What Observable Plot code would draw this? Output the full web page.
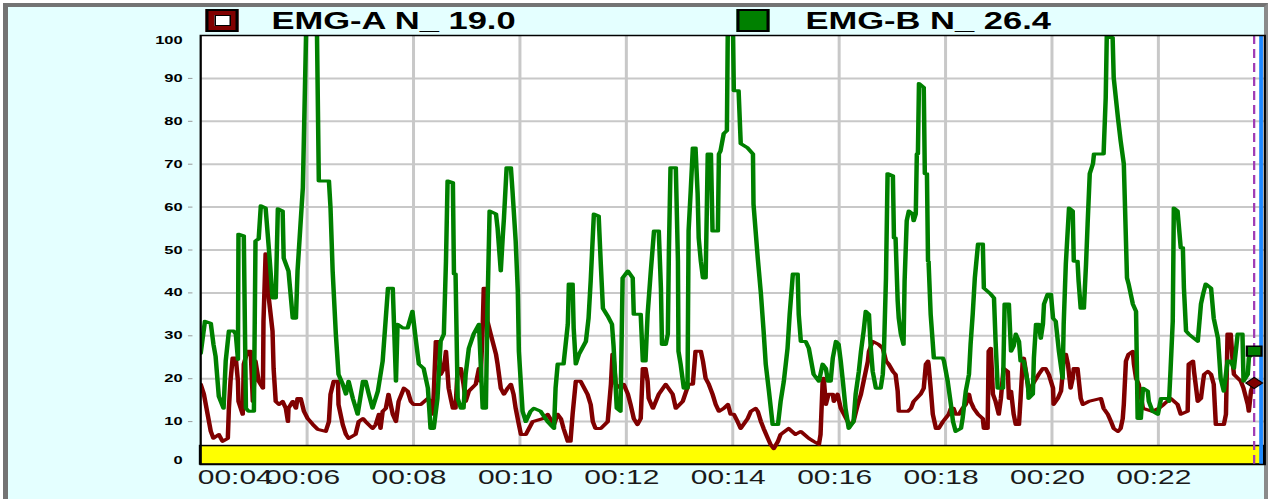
<!DOCTYPE html>
<html>
<head>
<meta charset="utf-8">
<script src="https://cdn.jsdelivr.net/npm/d3@7"></script>
<script src="https://cdn.jsdelivr.net/npm/@observablehq/plot@0.6"></script>
<style>
  html, body { margin: 0; padding: 0; background: #ffffff; }
  body { width: 1271px; height: 499px; overflow: hidden; position: relative; }
  #bg { position: absolute; left: 3px; top: 3px; width: 1265px; height: 496px; box-sizing: border-box; background: #e4ffff;
        border-top: 4px solid #737373; border-left: 5px solid #737373; border-right: 4px solid #8a8a8a; }
  #wrap { position: absolute; left: 0; top: 0; width: 847.33px; transform: scaleX(1.5); transform-origin: 0 0; }
  #legend { position: relative; height: 34px; font-family: "Liberation Sans", Arial, sans-serif; font-weight: bold; font-size: 23px; }
  .sw { position: absolute; top: 9px; width: 22px; height: 23px; box-sizing: border-box; border: 2px solid #000; }
  .sw .inner { position: absolute; left: 3.5px; top: 4px; width: 11px; height: 11px; box-sizing: border-box; background: #fff; border: 1.5px solid #000; }
  .lt { position: absolute; top: 10px; line-height: 23px; color: #000; white-space: pre; }
  #chart svg { display: block; }
</style>
</head>
<body>
<div id="bg"></div>
<div id="wrap">
  <div id="legend"></div>
  <div id="chart"></div>
</div>
<script>
// ---- data (time in seconds, value in %) ----
const xDomain = [4, 24];
const xTicks = [4, 6, 8, 10, 12, 14, 16, 18, 20, 22];
const xTickLabels = ["00:04", "00:06", "00:08", "00:10", "00:12", "00:14", "00:16", "00:18", "00:20", "00:22"];
const xGrid = [6, 8, 10, 12, 14, 16, 18, 20, 22];
const yDomain = [0, 100];
const yTicks = [0, 10, 20, 30, 40, 50, 60, 70, 80, 90, 100];
const yGrid = [10, 20, 30, 40, 50, 60, 70, 80, 90];
const seriesNames = ["EMG-A N_", "EMG-B N_"];
const seriesColors = ["#800000", "#008000"];
const cursorValues = [19.0, 26.4];
const cursorTime = [23.8];
const endTime = [23.93];
const bandTop = 4.3;

const emgA = [[4.00,18.7],[4.06,16.4],[4.13,11.7],[4.19,7.7],[4.24,6.1],[4.34,7.0],[4.41,5.4],[4.51,6.1],[4.53,13.1],[4.56,19.4],[4.60,24.8],[4.66,24.8],[4.70,19.4],[4.71,14.7],[4.79,11.7],[4.81,23.4],[4.88,26.4],[4.94,26.4],[4.98,14.7],[5.03,24.1],[5.09,19.4],[5.17,17.8],[5.18,33.4],[5.22,49.1],[5.26,48.1],[5.28,38.8],[5.35,31.1],[5.37,22.4],[5.41,14.7],[5.47,14.0],[5.54,14.7],[5.60,13.1],[5.64,10.0],[5.65,13.1],[5.73,14.7],[5.79,13.1],[5.82,15.4],[5.88,15.4],[5.94,12.4],[6.01,10.7],[6.11,9.3],[6.20,8.2],[6.35,7.7],[6.41,10.0],[6.44,16.4],[6.50,19.4],[6.58,19.4],[6.59,14.0],[6.67,9.3],[6.73,7.0],[6.78,6.1],[6.91,7.0],[6.97,10.0],[7.05,10.7],[7.10,10.0],[7.23,8.4],[7.29,9.3],[7.35,11.7],[7.38,8.4],[7.42,12.4],[7.48,13.1],[7.53,16.4],[7.61,11.7],[7.67,10.0],[7.72,14.7],[7.82,17.8],[7.89,17.1],[7.95,14.7],[8.00,14.0],[8.14,14.0],[8.27,15.4],[8.32,14.7],[8.36,11.7],[8.38,16.4],[8.42,28.7],[8.47,28.7],[8.51,21.0],[8.57,22.4],[8.61,26.4],[8.66,17.8],[8.70,15.4],[8.74,13.1],[8.79,13.1],[8.83,22.4],[8.89,22.4],[8.94,18.7],[8.98,14.7],[9.04,17.1],[9.17,18.7],[9.23,22.4],[9.26,19.4],[9.30,31.8],[9.32,41.1],[9.38,41.1],[9.39,33.4],[9.45,30.4],[9.55,25.7],[9.58,23.4],[9.64,17.8],[9.70,16.4],[9.77,17.8],[9.83,18.7],[9.88,16.4],[9.92,13.1],[9.98,9.3],[10.02,7.0],[10.11,7.0],[10.17,8.4],[10.24,10.0],[10.43,10.7],[10.52,11.7],[10.64,9.3],[10.71,11.7],[10.77,10.7],[10.82,8.4],[10.90,5.4],[10.95,5.4],[10.99,11.7],[11.05,19.4],[11.14,19.4],[11.27,16.4],[11.33,14.0],[11.37,10.0],[11.42,8.4],[11.52,8.4],[11.65,10.0],[11.71,18.7],[11.74,25.7],[11.76,24.8],[11.80,18.7],[11.89,17.8],[11.95,18.7],[12.03,16.4],[12.08,14.0],[12.14,10.7],[12.21,9.3],[12.27,10.7],[12.31,22.4],[12.36,22.4],[12.40,19.4],[12.42,15.4],[12.50,13.1],[12.61,16.4],[12.74,18.7],[12.87,16.4],[12.93,13.1],[13.06,14.7],[13.17,18.7],[13.25,18.7],[13.30,26.4],[13.40,26.4],[13.44,24.1],[13.49,20.1],[13.55,18.7],[13.62,16.4],[13.68,14.0],[13.74,12.4],[13.83,13.1],[13.91,14.0],[13.96,11.7],[14.02,11.7],[14.09,10.0],[14.15,8.4],[14.28,10.7],[14.34,12.4],[14.43,13.1],[14.47,12.4],[14.53,10.0],[14.58,8.4],[14.66,6.1],[14.71,4.7],[14.77,3.7],[14.85,5.4],[14.90,7.0],[15.05,8.4],[15.18,7.0],[15.28,7.7],[15.43,6.1],[15.52,5.4],[15.62,4.7],[15.65,7.0],[15.69,19.4],[15.71,20.1],[15.75,14.0],[15.80,16.4],[15.88,16.4],[15.90,14.7],[15.97,16.4],[16.03,13.1],[16.09,11.7],[16.16,10.0],[16.22,9.3],[16.27,10.0],[16.35,14.0],[16.41,16.4],[16.46,19.4],[16.54,24.1],[16.56,26.4],[16.63,28.7],[16.74,28.0],[16.82,27.1],[16.88,24.1],[16.93,23.4],[17.01,21.7],[17.06,21.0],[17.10,17.1],[17.12,12.4],[17.29,12.4],[17.35,13.1],[17.40,14.7],[17.53,16.4],[17.59,17.8],[17.63,23.4],[17.67,24.1],[17.68,23.4],[17.72,17.8],[17.76,11.7],[17.82,8.4],[17.87,8.4],[17.95,10.0],[18.06,11.7],[18.10,13.1],[18.15,13.1],[18.19,11.7],[18.25,11.7],[18.32,13.1],[18.38,14.0],[18.44,16.4],[18.47,14.7],[18.53,13.1],[18.61,11.7],[18.70,10.7],[18.72,8.4],[18.79,8.4],[18.81,26.4],[18.85,27.1],[18.89,16.4],[18.94,14.7],[19.00,11.7],[19.04,15.4],[19.09,22.4],[19.17,21.7],[19.19,15.4],[19.23,17.1],[19.28,11.7],[19.32,9.3],[19.38,9.3],[19.41,15.4],[19.45,24.1],[19.47,24.8],[19.51,21.7],[19.56,17.1],[19.64,18.7],[19.75,21.0],[19.83,22.4],[19.88,22.4],[19.94,21.0],[20.02,17.8],[20.03,14.0],[20.11,15.4],[20.17,17.1],[20.20,21.0],[20.22,25.7],[20.26,25.7],[20.30,23.4],[20.35,17.8],[20.39,20.1],[20.41,22.4],[20.48,22.4],[20.50,20.1],[20.54,15.4],[20.58,14.0],[20.69,14.7],[20.92,15.4],[20.97,13.1],[21.05,11.7],[21.11,10.0],[21.16,8.4],[21.24,7.7],[21.29,8.4],[21.33,10.7],[21.35,14.0],[21.39,24.1],[21.44,25.7],[21.52,26.4],[21.54,23.4],[21.58,20.1],[21.63,18.7],[21.71,13.1],[21.89,12.4],[22.01,13.1],[22.10,14.0],[22.23,15.4],[22.36,14.0],[22.42,11.7],[22.55,12.4],[22.57,23.4],[22.65,24.1],[22.67,21.7],[22.74,14.7],[22.80,15.4],[22.84,19.4],[22.86,21.0],[22.93,21.7],[22.99,21.0],[23.04,18.7],[23.08,9.3],[23.23,9.3],[23.27,11.7],[23.30,30.4],[23.36,30.4],[23.40,23.4],[23.42,21.0],[23.55,19.4],[23.60,17.8],[23.68,14.0],[23.70,12.4],[23.74,17.1],[23.79,19.0]];

const emgB = [[4.00,25.9],[4.08,33.4],[4.19,32.9],[4.24,28.0],[4.28,25.2],[4.34,15.9],[4.43,13.1],[4.47,24.1],[4.53,31.1],[4.62,31.1],[4.66,30.4],[4.70,24.5],[4.71,53.7],[4.81,53.3],[4.85,13.1],[4.90,12.4],[5.00,12.4],[5.03,52.1],[5.09,52.6],[5.13,60.3],[5.22,59.8],[5.28,50.5],[5.35,38.8],[5.41,38.8],[5.45,59.6],[5.54,59.1],[5.56,48.1],[5.65,45.1],[5.73,34.1],[5.79,34.1],[5.82,45.1],[5.88,56.8],[5.92,64.5],[5.99,106],[6.18,106],[6.22,66.1],[6.41,66.1],[6.44,59.8],[6.48,45.1],[6.54,30.4],[6.59,21.0],[6.67,18.7],[6.73,16.4],[6.78,19.4],[6.86,15.4],[6.95,11.7],[7.05,19.4],[7.10,19.4],[7.16,16.4],[7.23,13.1],[7.33,17.1],[7.42,24.1],[7.52,41.1],[7.61,41.1],[7.67,19.4],[7.70,32.7],[7.80,31.8],[7.89,31.8],[7.98,35.7],[8.04,29.4],[8.10,23.4],[8.19,22.4],[8.27,17.8],[8.32,8.4],[8.38,8.4],[8.45,15.4],[8.51,28.7],[8.57,30.4],[8.61,47.4],[8.64,66.1],[8.74,65.7],[8.76,44.4],[8.79,44.4],[8.83,15.4],[8.89,13.1],[8.94,13.1],[8.98,21.0],[9.04,27.1],[9.13,30.4],[9.23,32.7],[9.30,13.1],[9.36,13.1],[9.39,36.4],[9.43,59.1],[9.55,58.4],[9.58,55.1],[9.64,45.1],[9.68,53.7],[9.70,57.5],[9.75,69.2],[9.83,69.2],[9.86,63.8],[9.92,52.1],[9.96,40.4],[9.98,26.4],[10.05,12.4],[10.11,10.0],[10.20,12.4],[10.26,13.1],[10.39,12.4],[10.52,10.0],[10.64,8.4],[10.67,17.8],[10.71,23.4],[10.82,23.4],[10.90,32.7],[10.92,42.1],[10.99,42.1],[11.01,31.8],[11.05,23.4],[11.11,25.7],[11.24,28.7],[11.29,34.1],[11.33,42.8],[11.39,58.4],[11.48,57.9],[11.52,46.7],[11.56,36.4],[11.65,34.6],[11.73,32.7],[11.76,27.6],[11.82,13.1],[11.89,12.4],[11.93,43.5],[12.03,45.1],[12.12,43.5],[12.14,35.0],[12.27,35.0],[12.31,24.1],[12.36,24.1],[12.40,35.0],[12.46,45.1],[12.52,54.4],[12.61,54.4],[12.65,41.1],[12.67,28.0],[12.74,28.0],[12.78,30.4],[12.80,49.8],[12.83,69.2],[12.93,69.2],[12.97,47.4],[12.98,26.4],[13.02,23.4],[13.08,17.8],[13.15,17.8],[13.17,54.4],[13.21,63.8],[13.25,73.8],[13.30,73.8],[13.34,63.1],[13.36,52.8],[13.40,47.4],[13.44,43.5],[13.49,43.5],[13.51,57.5],[13.53,72.4],[13.59,72.4],[13.62,54.4],[13.72,54.4],[13.74,72.4],[13.77,73.1],[13.83,77.1],[13.89,77.8],[13.91,106],[14.00,106],[14.02,87.1],[14.11,87.1],[14.15,74.8],[14.28,73.8],[14.38,72.4],[14.39,60.7],[14.47,48.1],[14.53,39.7],[14.58,31.1],[14.62,23.4],[14.68,17.1],[14.75,9.3],[14.85,9.3],[14.90,14.7],[14.96,19.4],[15.03,27.1],[15.07,35.0],[15.13,44.4],[15.22,44.4],[15.24,35.0],[15.28,28.7],[15.37,28.7],[15.43,27.1],[15.52,21.0],[15.62,19.4],[15.69,23.4],[15.75,22.4],[15.79,19.4],[15.84,19.4],[15.88,24.8],[15.94,28.7],[15.99,28.0],[16.03,24.1],[16.07,19.4],[16.12,13.1],[16.18,8.4],[16.27,10.0],[16.31,16.4],[16.37,21.7],[16.41,26.4],[16.46,31.1],[16.50,35.7],[16.56,35.0],[16.59,28.0],[16.63,21.7],[16.69,17.8],[16.78,17.8],[16.82,21.0],[16.84,25.7],[16.88,43.5],[16.91,67.8],[17.01,67.3],[17.03,52.8],[17.06,52.8],[17.10,38.1],[17.12,34.1],[17.16,30.4],[17.21,28.0],[17.23,42.8],[17.27,56.8],[17.31,59.1],[17.38,58.4],[17.40,56.8],[17.44,58.4],[17.46,72.4],[17.48,72.4],[17.50,88.8],[17.59,87.9],[17.61,67.8],[17.65,67.8],[17.67,47.4],[17.68,47.4],[17.72,35.0],[17.78,24.8],[17.95,24.8],[17.97,24.1],[18.04,19.4],[18.10,14.0],[18.14,10.0],[18.19,7.7],[18.29,8.4],[18.32,10.7],[18.38,17.1],[18.44,21.0],[18.47,28.0],[18.51,35.0],[18.55,43.5],[18.61,51.4],[18.70,51.4],[18.72,41.1],[18.85,39.7],[18.91,38.8],[18.94,28.7],[18.98,17.8],[19.08,17.8],[19.09,24.8],[19.11,37.4],[19.19,37.4],[19.21,31.8],[19.23,26.4],[19.28,27.6],[19.32,30.4],[19.38,28.7],[19.41,24.1],[19.47,24.1],[19.55,18.7],[19.56,15.4],[19.64,16.4],[19.66,24.8],[19.70,32.7],[19.75,32.7],[19.79,29.4],[19.83,32.7],[19.85,37.4],[19.92,39.7],[19.98,39.7],[20.02,34.1],[20.07,33.4],[20.13,26.4],[20.20,20.1],[20.22,32.7],[20.26,46.7],[20.32,59.8],[20.39,59.1],[20.41,47.4],[20.48,47.4],[20.50,42.8],[20.54,36.4],[20.60,36.4],[20.64,46.7],[20.67,56.1],[20.71,67.8],[20.77,70.1],[20.79,72.4],[20.97,72.4],[21.01,85.5],[21.03,100],[21.14,99.5],[21.16,90.2],[21.24,80.8],[21.29,75.5],[21.35,70.1],[21.41,43.5],[21.44,42.1],[21.52,37.4],[21.58,35.7],[21.61,10.7],[21.67,10.7],[21.71,17.8],[21.80,17.1],[21.82,14.7],[21.89,12.4],[21.99,11.7],[22.05,15.4],[22.18,15.4],[22.20,14.7],[22.23,22.4],[22.27,33.4],[22.29,59.8],[22.36,59.1],[22.42,50.5],[22.46,50.5],[22.48,41.1],[22.52,31.1],[22.57,30.4],[22.67,29.4],[22.74,28.7],[22.80,37.4],[22.84,39.7],[22.89,42.1],[22.99,41.1],[23.04,34.1],[23.12,29.4],[23.17,20.1],[23.23,17.1],[23.30,24.1],[23.36,24.1],[23.42,22.4],[23.49,30.4],[23.58,30.4],[23.60,19.4],[23.68,21.0],[23.70,24.8],[23.77,26.4]];

// ---- legend ----
const legend = document.getElementById("legend");
const swLeft = [137, 491], txtLeft = [181, 537];
seriesNames.forEach((name, i) => {
  const sw = document.createElement("div");
  sw.className = "sw";
  sw.style.left = swLeft[i] + "px";
  sw.style.background = seriesColors[i];
  if (i === 0) { const inner = document.createElement("div"); inner.className = "inner"; sw.appendChild(inner); }
  legend.appendChild(sw);
  const t = document.createElement("div");
  t.className = "lt";
  t.style.left = txtLeft[i] + "px";
  t.textContent = name + " " + cursorValues[i].toFixed(1);
  legend.appendChild(t);
});

// ---- chart ----
const toRows = arr => arr.map(([t, v]) => ({t, v}));
const band = [{t0: xDomain[0], t1: xDomain[1], v0: yDomain[0], v1: bandTop}];
const fontFam = "Liberation Sans, Arial, sans-serif";
const yLabelStyle = {text: d => String(d), frameAnchor: "left", dx: -12, textAnchor: "end",
  fontSize: 11, fontWeight: "bold", fontFamily: fontFam, fill: "#000"};
const xLabelStyle = {frameAnchor: "bottom", dy: 19, fontSize: 20, fontFamily: fontFam, fill: "#1a1a1a"};

const chart = Plot.plot({
  width: 847, height: 465,
  marginLeft: 133.3, marginRight: 4.3, marginTop: 1, marginBottom: 35,
  style: {background: "transparent", overflow: "visible"},
  x: {type: "linear", domain: xDomain, axis: null},
  y: {type: "linear", domain: yDomain, axis: null},
  marks: [
    Plot.frame({fill: "white", stroke: null}),
    Plot.gridY(yGrid, {stroke: "#c8c8c8", strokeOpacity: 1, strokeWidth: 2}),
    Plot.gridX(xGrid, {stroke: "#c8c8c8", strokeOpacity: 1, strokeWidth: 2}),
    Plot.rect(band, {x1: "t0", x2: "t1", y1: "v0", y2: "v1", fill: "#ffff00", stroke: "#000", strokeWidth: 1.5}),
    Plot.line(toRows(emgA), {x: "t", y: "v", stroke: seriesColors[0], strokeWidth: 3, clip: true}),
    Plot.line(toRows(emgB), {x: "t", y: "v", stroke: seriesColors[1], strokeWidth: 3, clip: true}),
    Plot.ruleX(cursorTime, {stroke: "#a03cb4", strokeWidth: 1.5, strokeDasharray: "9,5"}),
    Plot.ruleX(endTime, {stroke: "#1e88ff", strokeWidth: 2.5}),
    Plot.dot([{t: cursorTime[0], v: cursorValues[1]}], {x: "t", y: "v", symbol: "square", r: 5.5, fill: seriesColors[1], stroke: "#000", strokeWidth: 1.5}),
    Plot.dot([{t: cursorTime[0], v: cursorValues[0]}], {x: "t", y: "v", symbol: "diamond2", r: 5, fill: seriesColors[0], stroke: "#000", strokeWidth: 1}),
    Plot.frame({stroke: "#000", strokeWidth: 1.5}),
    // y axis: small grey tick dashes, labels kept inside the frame at both ends
    Plot.axisY(yGrid, {anchor: "left", label: null, tickSize: 3, tickPadding: 0, dx: -5, tickFormat: () => "", stroke: "#999"}),
    Plot.text(yGrid, {...yLabelStyle, y: d => d}),
    Plot.text(yTicks.slice(-1), {...yLabelStyle, y: d => d, lineAnchor: "top", dy: 1}),
    Plot.text(yTicks.slice(0, 1), {...yLabelStyle, y: d => d, lineAnchor: "bottom", dy: -1}),
    // x axis labels
    Plot.text(xTicks.slice(1), {...xLabelStyle, x: d => d, text: (d, i) => xTickLabels[i + 1], dx: -3, textAnchor: "middle"}),
    Plot.text(xTicks.slice(0, 1), {...xLabelStyle, x: d => d, text: (d, i) => xTickLabels[i], dx: -2, textAnchor: "start"})
  ]
});
document.getElementById("chart").appendChild(chart);
</script>
</body>
</html>
